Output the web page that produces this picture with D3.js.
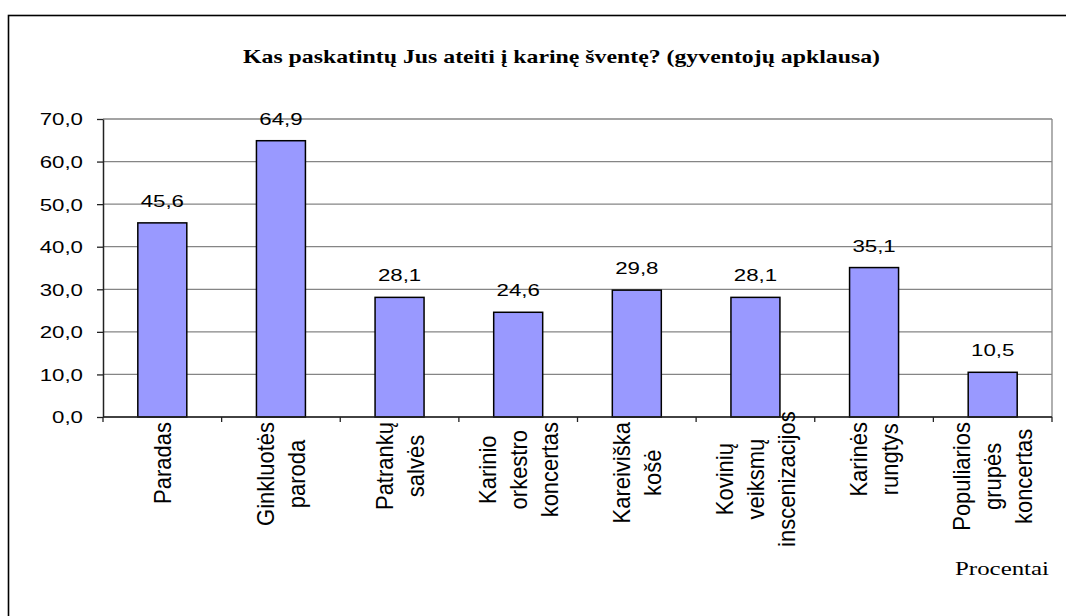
<!DOCTYPE html>
<html>
<head>
<meta charset="utf-8">
<script src="https://cdn.jsdelivr.net/npm/d3@7"></script>
<style>
  body { margin: 0; background: #fff; }
  svg { display: block; }
</style>
</head>
<body>
<svg id="chart" width="1066" height="616"></svg>
<script>
// Survey answers: what would make residents attend the military festival (percent)
const categories = [
  "Paradas",
  "Ginkluotės\nparoda",
  "Patrankų\nsalvės",
  "Karinio\norkestro\nkoncertas",
  "Kareiviška\nkošė",
  "Kovinių\nveiksmų\ninscenizacijos",
  "Karinės\nrungtys",
  "Populiarios\ngrupės\nkoncertas"
];
const values = [45.6, 64.9, 28.1, 24.6, 29.8, 28.1, 35.1, 10.5];
const yTicks = [0, 10, 20, 30, 40, 50, 60, 70];
const titleText = "Kas paskatintų Jus ateiti į karinę šventę? (gyventojų apklausa)";
const unitText = "Procentai";

const svg = d3.select("#chart");
const plot = { left: 103, right: 1052, top: 119, bottom: 417 };
const sans = "'Liberation Sans', Arial, sans-serif";
const serif = "'Liberation Serif', 'Times New Roman', serif";
const wide = 1.35; // horizontal stretch of upright text

// outer frame
svg.append("rect")
  .attr("x", 8.5).attr("y", 15.5)
  .attr("width", 1200).attr("height", 800)
  .attr("fill", "none").attr("stroke", "#000").attr("stroke-width", 1.6);

// title
svg.append("text")
  .attr("x", 243).attr("y", 63)
  .attr("font-family", serif).attr("font-weight", "bold").attr("font-size", 19.5)
  .attr("textLength", 637).attr("lengthAdjust", "spacingAndGlyphs")
  .attr("fill", "#000")
  .text(titleText);

const x = d3.scaleBand()
  .domain(categories)
  .range([plot.left, plot.right])
  .paddingInner(0.587)
  .paddingOuter(0.2935);

const y = d3.scaleLinear().domain([0, 70]).range([plot.bottom, plot.top]);

// gridlines
svg.append("g").selectAll("line")
  .data(yTicks)
  .join("line")
  .attr("x1", plot.left).attr("x2", plot.right)
  .attr("y1", d => y(d)).attr("y2", d => y(d))
  .attr("stroke", "#858585").attr("stroke-width", 1.3);

// right edge of plot area
svg.append("line")
  .attr("x1", plot.right).attr("x2", plot.right)
  .attr("y1", y(70)).attr("y2", y(0))
  .attr("stroke", "#858585").attr("stroke-width", 1.3);

// bars
svg.append("g").selectAll("rect")
  .data(values)
  .join("rect")
  .attr("x", (d, i) => x(categories[i]))
  .attr("width", x.bandwidth())
  .attr("y", d => y(d))
  .attr("height", d => y(0) - y(d))
  .attr("fill", "#9999ff")
  .attr("stroke", "#000").attr("stroke-width", 1.5);

// value labels
svg.append("g").selectAll("text")
  .data(values)
  .join("text")
  .attr("transform", (d, i) =>
    `translate(${x(categories[i]) + x.bandwidth() / 2},${y(d) - 16}) scale(${wide},1)`)
  .attr("text-anchor", "middle")
  .attr("font-family", sans).attr("font-size", 16.5)
  .attr("fill", "#000")
  .text(d => d.toFixed(1).replace(".", ","));

// y axis
const yAxis = svg.append("g")
  .attr("transform", `translate(${plot.left},0)`)
  .call(d3.axisLeft(y).tickValues(yTicks).tickSize(6).tickSizeOuter(0)
    .tickFormat(d => d.toFixed(1).replace(".", ",")));
yAxis.select(".domain").attr("stroke", "#222").attr("stroke-width", 1.5);
yAxis.selectAll(".tick line").attr("stroke", "#222").attr("stroke-width", 1.3);
yAxis.selectAll(".tick text")
  .attr("x", -20 / wide)
  .attr("dy", "0.36em")
  .attr("transform", `scale(${wide},1)`)
  .attr("font-family", sans).attr("font-size", 16.5)
  .attr("fill", "#000");

// x axis line and category boundary ticks
const xAxis = svg.append("g");
xAxis.append("line")
  .attr("x1", plot.left).attr("x2", plot.right)
  .attr("y1", y(0)).attr("y2", y(0))
  .attr("stroke", "#222").attr("stroke-width", 1.5);
xAxis.selectAll("line.tick")
  .data(d3.range(categories.length + 1))
  .join("line").attr("class", "tick")
  .attr("x1", i => x.range()[0] + i * x.step())
  .attr("x2", i => x.range()[0] + i * x.step())
  .attr("y1", y(0)).attr("y2", y(0) + 5)
  .attr("stroke", "#222").attr("stroke-width", 1.3);

// rotated multi-line category labels
const labelTop = y(0) + 5, labelBottom = 547, lineGap = 31;
categories.forEach(cat => {
  const lines = cat.split("\n");
  const cx = x(cat) + x.bandwidth() / 2;
  const g = svg.append("g");
  const texts = lines.map((ln, i) =>
    g.append("text")
      .attr("text-anchor", "middle")
      .attr("dy", "0.36em")
      .attr("font-family", sans).attr("font-size", 22)
      .attr("fill", "#000")
      .text(ln));
  const longest = d3.max(texts, t => t.node().getComputedTextLength());
  const cy = Math.min(labelTop + longest / 2, labelBottom - longest / 2);
  texts.forEach((t, i) => {
    const dx = (i - (lines.length - 1) / 2) * lineGap;
    t.attr("transform", `translate(${cx + dx},${cy}) rotate(-90) scale(1,1.08)`);
  });
});

// unit label
svg.append("text")
  .attr("x", 955).attr("y", 575)
  .attr("font-family", serif).attr("font-size", 19.5)
  .attr("textLength", 94).attr("lengthAdjust", "spacingAndGlyphs")
  .attr("fill", "#000")
  .text(unitText);
</script>
</body>
</html>
